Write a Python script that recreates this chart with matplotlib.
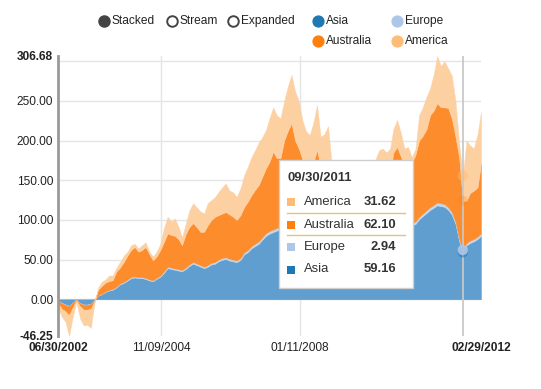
import pandas as pd
import matplotlib
matplotlib.use("Agg")
import matplotlib.pyplot as plt
from matplotlib.patches import Rectangle
from matplotlib.lines import Line2D

plt.rcParams['font.family'] = ['Liberation Sans', 'DejaVu Sans']

# month-end dates, 06/30/2002 .. 02/29/2012
dates = pd.date_range('2002-06-30', '2012-02-29', freq='ME')

asia = [-1.7, -4.5, -6.4, -8.2, -3.6, -0.3, -4.6, -6.5, -6.5, -5.6, -0.9,
        4.5, 6.4, 9.2, 11.1, 12.0, 14.9, 18.8, 20.7, 23.6, 26.5,
        27.5, 26.6, 26.6, 25.6, 23.7, 22.8, 25.7, 28.5, 33.3, 39.1,
        38.1, 37.2, 36.2, 35.3, 38.1, 42.0, 44.9, 43.0, 41.1, 39.1,
        41.0, 43.9, 44.9, 47.8, 49.7, 50.7, 48.8, 47.8, 46.8, 49.7,
        56.5, 59.4, 64.2, 67.1, 70.0, 74.9, 79.8, 82.7, 84.6, 86.6,
        87.5, 89.5, 90.4, 91.4, 88.5, 86.6, 82.7, 78.8, 76.9, 76.9,
        78.8, 75.0, 72.1, 69.2, 63.4, 57.6, 52.8, 49.9, 48.0, 46.0,
        49.9, 53.8, 57.7, 62.6, 67.5, 69.5, 72.4, 75.4, 77.3, 79.3,
        81.2, 83.2, 85.1, 87.1, 89.0, 91.0, 92.9, 94.9, 100.8, 104.7,
        108.6, 112.5, 115.5, 118.4, 117.4, 116.5, 112.6, 106.7, 94.8, 73.0,
        59.16, 68.0, 71.0, 73.0, 75.9, 79.9]

europe = [-0.3, -0.5, -0.6, -0.8, -0.4, 0.1, -0.4, -0.5, -0.5, -0.4, -0.1,
          0.5, 0.6, 0.8, 0.9, 1.0, 1.1, 1.2, 1.3, 1.4, 1.5,
          1.5, 1.4, 1.4, 1.4, 1.3, 1.2, 1.3, 1.5, 1.7, 1.9,
          1.9, 1.8, 1.8, 1.7, 1.9, 2.0, 2.1, 2.0, 1.9, 1.9,
          2.0, 2.1, 2.1, 2.2, 2.3, 2.3, 2.2, 2.2, 2.2, 2.3,
          2.5, 2.6, 2.8, 2.9, 3.0, 3.1, 3.2, 3.3, 3.4, 3.4,
          3.5, 3.5, 3.6, 3.6, 3.5, 3.4, 3.3, 3.2, 3.1, 3.1,
          3.2, 3.0, 2.9, 2.8, 2.6, 2.4, 2.2, 2.1, 2.0, 2.0,
          2.1, 2.2, 2.3, 2.4, 2.5, 2.5, 2.6, 2.6, 2.7, 2.7,
          2.8, 2.8, 2.9, 2.9, 3.0, 3.0, 3.1, 3.1, 3.2, 3.3,
          3.4, 3.5, 3.5, 3.6, 3.6, 3.5, 3.4, 3.3, 3.2, 3.0,
          2.94, 3.0, 3.0, 3.0, 3.1, 3.1]

australia = [-3, -7, -8, -11, -6, -0.8, -4, -6, -6, -6, -1,
             7, 10, 11, 11, 11, 19, 20, 25, 30, 34,
             37, 32, 34, 39, 32, 25, 27, 32, 37, 42,
             41, 41, 38, 31, 42, 47, 49, 46, 42, 44,
             50, 54, 57, 56, 56, 57, 56, 54, 51, 54,
             57, 61, 64, 68, 71, 76, 82, 87, 98, 88,
             87, 107, 118, 127, 108, 100, 90, 86, 85, 92,
             106, 90, 85, 93, 74, 65, 60, 58, 55, 54,
             56, 62, 65, 70, 70, 68, 70, 74, 76, 73,
             76, 99, 104, 90, 76, 76, 76, 84, 96, 98,
             102, 116, 119, 125, 121, 122, 125, 118, 107, 102,
             62.10, 53, 60, 61, 62, 88]

america = [-5, -10, -13, -26.25, -12, -2, -15, -20, -19, -24, -3,
           3, 5, 4, 7, 6, 5, 7, 8, 5, 6,
           4, 4, 6, 6, 3, 5, 6, 8, 18, 21,
           17, 22, 16, 10, 13, 21, 25, 25, 26, 23,
           28, 25, 25, 29, 33, 36, 30, 31, 29, 34,
           40, 44, 48, 50, 54, 50, 48, 55, 56, 54,
           50, 50, 56, 61, 62, 60, 49, 44, 42, 50,
           57, 37, 48, 53, 32, 25, 25, 25, 25, 26,
           27, 27, 30, 30, 30, 32, 31, 36, 34, 30,
           30, 30, 34, 30, 22, 22, 7, 8, 32, 36,
           41, 34, 46, 59.68, 52, 58, 50, 54, 45, 17,
           31.62, 76, 60, 53, 67, 65]

names = ['Asia', 'Europe', 'Australia', 'America']
colors = ['#1f77b4', '#aec7e8', '#ff7f0e', '#ffbb78']
fills = ['#5f9ecf', '#c2d6ee', '#fd8c2c', '#fdd0a2']

y_min, y_max = -46.25, 306.68
hover = 111  # 09/30/2011

W, H = 541, 389
fig = plt.figure(figsize=(W / 100, H / 100), dpi=100)
ax = fig.add_axes([58 / W, 1 - 336 / H, 423 / W, 280 / H])


def px(x, y):
    return x / W, 1 - y / H


for v in [0, 50, 100, 150, 200, 250, 300]:
    ax.axhline(v, color='#e5e5e5', lw=1, zorder=0)
for d in ['2004-11-09', '2008-01-11']:
    ax.axvline(pd.Timestamp(d), color='#e5e5e5', lw=1, zorder=0)

ax.stackplot(dates, asia, europe, australia, america, colors=fills,
             edgecolor='face', linewidth=0.3, zorder=2)

ax.set_xlim(dates[0], dates[-1])
ax.set_ylim(y_min, y_max)

yt = [y_min, 0, 50, 100, 150, 200, 250, 300, y_max]
ax.set_yticks(yt)
ax.set_yticklabels(['%.2f' % v if v != 300 else '' for v in yt])
xt = [pd.Timestamp(d) for d in ['2002-06-30', '2004-11-09', '2008-01-11', '2012-02-29']]
ax.set_xticks(xt)
ax.set_xticklabels([d.strftime('%m/%d/%Y') for d in xt])
ax.tick_params(length=0, labelsize=8.6, labelcolor='#222')
ax.tick_params(axis='y', pad=3.5)
ax.tick_params(axis='x', pad=4.5)
for lbl in ax.get_yticklabels():
    if lbl.get_text() in ('306.68', '-46.25'):
        lbl.set_fontweight('bold')
for i, lbl in enumerate(ax.get_xticklabels()):
    if i in (0, 3):
        lbl.set_fontweight('bold')

for s in ['top', 'right', 'bottom']:
    ax.spines[s].set_visible(False)
ax.spines['left'].set_color('#999999')
ax.spines['left'].set_linewidth(2)

# hover guideline + points
hd = dates[hover]
ax.axvline(hd, color='#c8c8c8', lw=1.4, alpha=0.9, zorder=3)
cum = 0
for vals, c, a in zip([asia, europe, australia, america], colors, [0.5, 0.9, 0.25, 0.45]):
    cum += vals[hover]
    ax.scatter([hd], [cum], s=55, color=c, alpha=a, edgecolors='none', zorder=4)

# tooltip
x0, y0 = px(279, 288)
fig.add_artist(Rectangle((x0, y0), 134 / W, 128 / H, transform=fig.transFigure,
                         facecolor='white', edgecolor='#cfcfcf', lw=1, zorder=5))
fig.text(*px(287, 178), hd.strftime('%m/%d/%Y'), fontsize=9.4, fontweight='bold',
         color='#333', va='center', ha='left', zorder=6)
rows = [('America', america, colors[3]), ('Australia', australia, colors[2]),
        ('Europe', europe, colors[1]), ('Asia', asia, colors[0])]
for i, (n, vals, c) in enumerate(rows):
    ry = 202 + i * 22.5
    sx, sy = px(287, ry + 4)
    fig.add_artist(Rectangle((sx, sy), 8 / W, 8 / H, transform=fig.transFigure,
                             facecolor=c, edgecolor='none', zorder=6))
    fig.text(*px(304, ry), n, fontsize=9.4, color='#333', va='center', ha='left', zorder=6)
    fig.text(*px(396, ry), '%.2f' % vals[hover], fontsize=9.4, fontweight='bold',
             color='#333', va='center', ha='right', zorder=6)
for ly in (213, 235):
    fig.add_artist(Line2D([287 / W, 405 / W], [1 - ly / H] * 2, transform=fig.transFigure,
                          color='#e3c27c', lw=1, zorder=6))

# legend / controls
for cx, lab, filled in [(104, 'Stacked', True), (172, 'Stream', False), (233, 'Expanded', False)]:
    fig.add_artist(Line2D([cx / W], [1 - 21 / H], marker='o', ms=7.6,
                          mfc='#444' if filled else 'white', mec='#444', mew=1.4,
                          transform=fig.transFigure))
    fig.text(*px(cx + 8, 21), lab, fontsize=8.6, color='#222', va='center', ha='left')
for (cx, cy), n, c in zip([(318, 21), (397, 21), (318, 41), (397, 41)], names, colors):
    fig.add_artist(Line2D([cx / W], [1 - cy / H], marker='o', ms=7.8, mfc=c, mec=c,
                          transform=fig.transFigure))
    fig.text(*px(cx + 8, cy), n, fontsize=8.6, color='#222', va='center', ha='left')

fig.savefig('out.png', dpi=100)
